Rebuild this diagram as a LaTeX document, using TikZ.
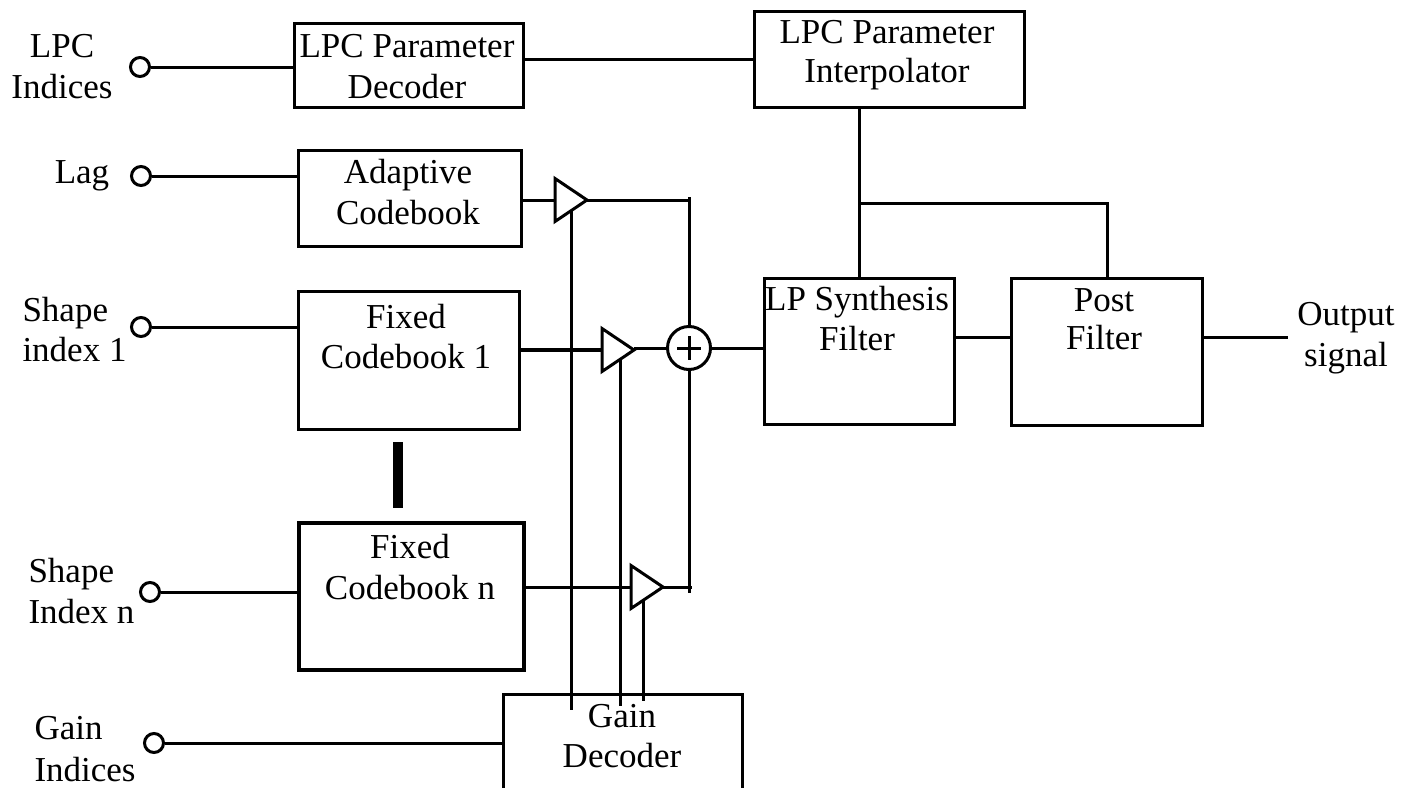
\documentclass[tikz,border=0pt]{standalone}
\usepackage{fontspec}
\setmainfont{Liberation Serif}
\usetikzlibrary{shapes.geometric,calc}
\begin{document}
\begin{tikzpicture}[x=1pt,y=-1pt,line width=3pt,
  box/.style={draw,line width=3.2pt,inner sep=0pt,anchor=north west},
  lbl/.style={anchor=base,inner sep=0pt,font=\fontsize{35}{40.5}\selectfont},
  lblw/.style={anchor=base west,inner sep=0pt,font=\fontsize{35}{40.5}\selectfont},
  port/.style={draw,circle,minimum size=19pt,inner sep=0pt,line width=3pt},
  amp/.style={draw,isosceles triangle,isosceles triangle stretches,shape border rotate=0,
    inner sep=0pt,outer sep=0pt,minimum width=43pt,minimum height=32pt,line width=3pt,anchor=lower side},
  sumnode/.style={draw,circle,minimum size=43pt,inner sep=0pt,outer sep=0pt,line width=3pt},
  wire/.style={line width=3pt}]
\path[use as bounding box] (0,0) rectangle (1402,787);
\clip (0,0) rectangle (1402,787);

% boxes
\node[box,minimum width=229pt,minimum height=84pt] (dec) at (293,22) {};
\node[box,minimum width=270pt,minimum height=96pt] (interp) at (753,10) {};
\node[box,minimum width=223pt,minimum height=96pt] (adapt) at (297,149) {};
\node[box,minimum width=221pt,minimum height=138pt] (fix1) at (297,290) {};
\node[box,minimum width=225pt,minimum height=147pt,line width=4pt] (fixn) at (297,521) {};
\node[box,minimum width=190pt,minimum height=146pt] (synth) at (763,277) {};
\node[box,minimum width=191pt,minimum height=147pt] (post) at (1010,277) {};
\node[box,minimum width=239pt,minimum height=120pt] (gain) at (502,693) {};
\node[fill,inner sep=0pt,minimum width=10pt,minimum height=66pt] (dots) at (398,475) {};

% box texts
\node[lbl] (t1a) at (407,57) {LPC Parameter};
\node[lbl] (t1b) at (407,98) {Decoder};
\node[lbl] (t2a) at (887,43) {LPC Parameter};
\node[lbl] (t2b) at (887,82) {Interpolator};
\node[lbl] (t3a) at (408,183) {Adaptive};
\node[lbl] (t3b) at (408,224) {Codebook};
\node[lbl] (t4a) at (406,328) {Fixed};
\node[lbl] (t4b) at (406,368) {Codebook 1};
\node[lbl] (t5a) at (410,558) {Fixed};
\node[lbl] (t5b) at (410,599) {Codebook n};
\node[lbl] (t6a) at (622,727) {Gain};
\node[lbl] (t6b) at (622,767) {Decoder};
\node[lbl] (t7a) at (857,310) {LP Synthesis};
\node[lbl] (t7b) at (857,350) {Filter};
\node[lbl] (t8a) at (1104,311) {Post};
\node[lbl] (t8b) at (1104,349) {Filter};
\node[lbl] (t9a) at (1346,325) {Output};
\node[lbl] (t9b) at (1346,366) {signal};

% input labels
\node[lbl] (l1a) at (62,57) {LPC};
\node[lbl] (l1b) at (62,98) {Indices};
\node[lbl] (l2) at (82,183) {Lag};
\node[lblw] (l3a) at (21,321) {Shape};
\node[lblw] (l3b) at (21,361) {index 1};
\node[lblw] (l4a) at (27,582) {Shape};
\node[lblw] (l4b) at (27,623) {Index n};
\node[lblw] (l5a) at (33,739) {Gain};
\node[lblw] (l5b) at (33,781) {Indices};

% ports
\node[port] (lpcp) at (140,67) {};
\node[port] (lagp) at (141,176) {};
\node[port] (s1p) at (141,327) {};
\node[port] (snp) at (150,592) {};
\node[port] (gp) at (154,743) {};

\draw[wire] (lpcp.east) -- (lpcp.east -| dec.west);
\draw[wire] (lagp.east) -- (lagp.east -| adapt.west);
\draw[wire] (s1p.east) -- (s1p.east -| fix1.west);
\draw[wire] (snp.east) -- (snp.east -| fixn.west);
\draw[wire] (gp.east) -- (gp.east -| gain.west);

% LPC path
\draw[wire] (interp.west -| dec.east) -- (interp.west);
\draw[wire] (synth.north |- interp.south) -- (synth.north);
\coordinate (br) at (858,203);
\draw[wire] (br) -- (br -| post.north) -- (post.north);
\coordinate (sp) at (0,337);
\draw[wire] (synth.east |- sp) -- (post.west |- sp);
\coordinate (out) at (1288,337);
\draw[wire] (post.east |- out) -- (out);

% amplifiers and sum
\node[amp] (a1) at (555,200) {};
\node[amp] (a2) at (602,350) {};
\node[amp] (a3) at (631,587) {};
\node[sumnode] (sum) at (689,348) {};
\draw[wire] (sum.center) +(-12,0) -- +(12,0);
\draw[wire] (sum.center) +(0,-12) -- +(0,12);

\draw[wire] (a1.lower side -| adapt.east) -- (a1.lower side);
\draw[line width=4pt] (a2.lower side -| fix1.east) -- (a2.lower side);
\draw[wire] (a3.lower side -| fixn.east) -- (a3.lower side);

\draw[wire] (a1.apex) -- (a1.apex -| sum.north);
\coordinate (top) at (0,197);
\draw[wire] (sum.north |- top) -- (sum.north);
\draw[wire] (sum.west -| a2.apex) -- (sum.west);
\draw[wire] (sum.east) -- (sum.east -| synth.west);
\coordinate (bot) at (0,593);
\draw[wire] (sum.south) -- (sum.south |- bot);
\coordinate (j3) at (692,0);
\draw[wire] (a3.apex) -- (a3.apex -| j3);

% gain control lines
\coordinate (c1) at ($(a1.right corner)!0.5!(a1.apex)$);
\coordinate (c2) at ($(a2.right corner)!0.58!(a2.apex)$);
\coordinate (c3) at ($(a3.right corner)!0.4!(a3.apex)$);
\draw[wire] (c1) -- ($(c1 |- gain.north)+(0,17)$);
\draw[wire] (c2) -- ($(c2 |- gain.north)+(0,13)$);
\draw[wire] (c3) -- ($(c3 |- gain.north)+(0,8)$);
\end{tikzpicture}
\end{document}
